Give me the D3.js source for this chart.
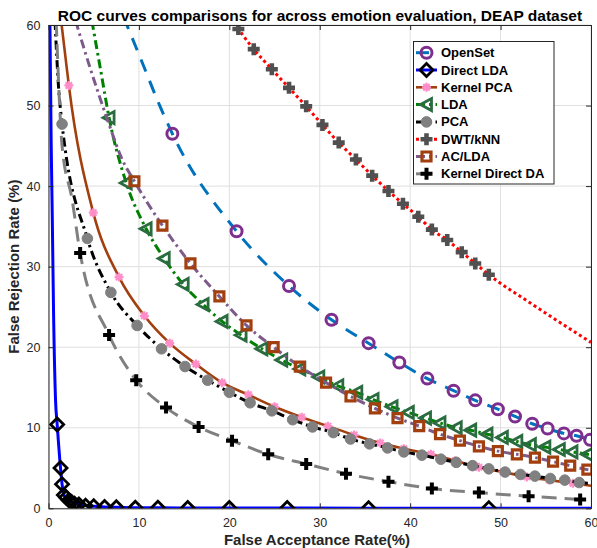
<!DOCTYPE html>
<html><head><meta charset="utf-8">
<script src="https://cdn.jsdelivr.net/npm/d3@7"></script>
<style>body{margin:0;background:#fff}svg{display:block}</style>
</head><body>
<svg id="chart" width="597" height="548"></svg>
<script>
// ---------------- DATA ----------------
const titleText = "ROC curves comparisons for across emotion evaluation, DEAP dataset";
const xLabel = "False Acceptance Rate(%)";
const yLabel = "False Rejection Rate (%)";
const xTicks = [0, 10, 20, 30, 40, 50, 60];
const yTicks = [0, 10, 20, 30, 40, 50, 60];
const seriesNames = ["OpenSet", "Direct LDA", "Kernel PCA", "LDA", "PCA", "DWT/kNN", "AC/LDA", "Kernel Direct DA"];

// OpenSet
const openSetLeadX = [8.3, 10.2, 12.3];
const openSetLeadY = [61, 55.8, 50.0];
const openSetX = [13.7, 20.8, 26.6, 31.3, 35.4, 38.8, 41.9, 44.8, 47.2, 49.7, 51.6, 53.5, 55.2, 57.0, 58.4, 59.9];
const openSetY = [46.5, 34.4, 27.6, 23.4, 20.5, 18.1, 16.1, 14.6, 13.4, 12.3, 11.4, 10.5, 9.9, 9.3, 9.0, 8.5];
const openSetTailX = [];
const openSetTailY = [];

// Direct LDA
const directLdaLeadX = [0.15, 0.3, 0.42, 0.55, 0.78];
const directLdaLeadY = [61, 45, 36, 25, 13.4];
const directLdaX = [0.96, 1.33, 1.5, 1.7, 1.96, 2.25, 2.55, 2.88, 3.36, 4.1, 5.0, 6.2, 7.5, 9.6, 12.1, 15.4, 20.0, 26.4, 35.4, 48.7];
const directLdaY = [10.4, 5.0, 3.0, 1.65, 1.33, 1.0, 0.79, 0.58, 0.46, 0.33, 0.25, 0.17, 0.12, 0.08, 0.06, 0.05, 0.04, 0.03, 0.02, 0.02];
const directLdaTailX = [60];
const directLdaTailY = [0.02];

// Kernel PCA
const kernelPcaLeadX = [1.4, 1.9];
const kernelPcaLeadY = [60.5, 55.8];
const kernelPcaX = [2.25, 4.95, 7.8, 10.6, 13.4, 16.3, 19.2, 22.1, 25.0, 28.0, 30.9, 33.8, 36.7, 39.3, 42.3, 45.0, 47.6, 50.3, 52.9, 55.4, 58.0];
const kernelPcaY = [52.5, 36.7, 28.7, 23.9, 20.5, 17.9, 15.6, 14.1, 12.6, 11.3, 10.2, 9.1, 8.1, 7.4, 6.7, 5.9, 5.1, 4.5, 3.9, 3.5, 3.1];
const kernelPcaTailX = [60];
const kernelPcaTailY = [2.8];

// LDA
const ldaLeadX = [4.8, 5.75];
const ldaLeadY = [60.5, 54.5];
const ldaX = [6.7, 8.6, 10.8, 12.8, 14.9, 17.1, 19.2, 21.3, 23.6, 25.8, 27.8, 29.9, 32.0, 34.1, 35.9, 38.0, 39.8, 41.7, 43.3, 45.1, 46.7, 48.5, 50.2, 51.8, 53.3, 54.9, 56.5, 57.9, 59.6];
const ldaY = [48.5, 40.4, 34.7, 31.0, 27.8, 25.3, 23.2, 21.5, 19.8, 18.4, 17.3, 16.3, 15.2, 14.4, 13.5, 12.6, 11.9, 11.2, 10.6, 10.0, 9.7, 9.2, 8.8, 8.3, 7.9, 7.6, 7.3, 7.0, 6.7];
const ldaTailX = [60];
const ldaTailY = [6.6];

// PCA
const pcaLeadX = [0.72, 1.1];
const pcaLeadY = [60.5, 52.5];
const pcaX = [1.5, 4.3, 6.9, 9.8, 12.5, 15.1, 17.6, 20.0, 22.3, 24.7, 27.0, 29.2, 31.5, 33.4, 35.5, 37.5, 39.3, 41.3, 43.4, 45.1, 46.9, 48.7, 50.5, 52.2, 53.8, 55.5, 57.1, 58.7];
const pcaY = [47.7, 33.5, 26.8, 22.7, 19.8, 17.6, 15.9, 14.4, 13.1, 12.1, 11.0, 10.1, 9.4, 8.6, 8.0, 7.5, 7.0, 6.6, 6.1, 5.7, 5.3, 4.9, 4.5, 4.2, 4.0, 3.7, 3.5, 3.2];
const pcaTailX = [60];
const pcaTailY = [3.1];

// DWT/kNN
const dwtLeadX = [20.5];
const dwtLeadY = [60.3];
const dwtX = [21.0, 22.7, 24.7, 26.6, 28.5, 30.3, 32.1, 34.0, 35.8, 37.6, 39.2, 40.9, 42.4, 44.1, 45.7, 47.2, 48.7];
const dwtY = [59.5, 57.0, 54.5, 52.2, 49.9, 47.6, 45.4, 43.3, 41.3, 39.4, 37.8, 36.2, 34.6, 33.3, 31.8, 30.4, 29.0];
const dwtTailX = [53.0, 60];
const dwtTailY = [25.7, 20.6];

// AC/LDA
const acLdaLeadX = [3.0, 4.65, 6.5, 8.15];
const acLdaLeadY = [60.5, 54.5, 48.3, 43.3];
const acLdaX = [9.5, 12.6, 15.7, 18.9, 21.9, 24.9, 27.8, 30.7, 33.4, 36.1, 38.6, 41.0, 43.3, 45.5, 47.6, 49.7, 51.8, 53.8, 55.8, 57.7, 59.6];
const acLdaY = [40.6, 35.1, 30.4, 26.3, 22.7, 20.0, 17.6, 15.6, 13.9, 12.4, 11.2, 10.2, 9.2, 8.4, 7.7, 7.1, 6.7, 6.3, 5.8, 5.3, 4.8];
const acLdaTailX = [60];
const acLdaTailY = [4.75];

// Kernel Direct DA
const kddaLeadX = [0.85, 1.5, 2.6];
const kddaLeadY = [60.5, 45, 38.4];
const kddaX = [3.5, 6.7, 9.7, 13.0, 16.6, 20.3, 24.3, 28.5, 32.9, 37.6, 42.4, 47.6, 53.1, 58.8];
const kddaY = [31.7, 21.5, 15.9, 12.5, 10.1, 8.4, 6.7, 5.5, 4.3, 3.3, 2.45, 1.95, 1.5, 1.1];
const kddaTailX = [];
const kddaTailY = [];

// ---------------- STYLES ----------------
const zip = (a, b) => a.map((v, i) => [v, b[i]]);
const series = [
  {name: seriesNames[0], lead: zip(openSetLeadX, openSetLeadY), pts: zip(openSetX, openSetY), tail: zip(openSetTailX, openSetTailY),
   color: "#0072BD", width: 3, dash: "13,10", marker: "circle", mStroke: "#7E2F8E", mFill: "none", mWidth: 3},
  {name: seriesNames[1], lead: zip(directLdaLeadX, directLdaLeadY), pts: zip(directLdaX, directLdaY), tail: zip(directLdaTailX, directLdaTailY),
   color: "#0000FF", width: 3, dash: null, marker: "diamond", mStroke: "#000", mFill: "none", mWidth: 2.8},
  {name: seriesNames[2], lead: zip(kernelPcaLeadX, kernelPcaLeadY), pts: zip(kernelPcaX, kernelPcaY), tail: zip(kernelPcaTailX, kernelPcaTailY),
   color: "#A23F0E", width: 2.6, dash: null, marker: "asterisk", mStroke: "#FF8EC8", mFill: "none", mWidth: 2.2},
  {name: seriesNames[3], lead: zip(ldaLeadX, ldaLeadY), pts: zip(ldaX, ldaY), tail: zip(ldaTailX, ldaTailY),
   color: "#008000", width: 3, dash: "9,4,2.5,4", marker: "triLeft", mStroke: "#2B6B40", mFill: "none", mWidth: 2.8},
  {name: seriesNames[4], lead: zip(pcaLeadX, pcaLeadY), pts: zip(pcaX, pcaY), tail: zip(pcaTailX, pcaTailY),
   color: "#000000", width: 3, dash: "9,4,2.5,4", marker: "dot", mStroke: "#808080", mFill: "#808080", mWidth: 1},
  {name: seriesNames[5], lead: zip(dwtLeadX, dwtLeadY), pts: zip(dwtX, dwtY), tail: zip(dwtTailX, dwtTailY),
   color: "#FF0000", width: 3, dash: "3,3", marker: "plusBig", mStroke: "#505050", mFill: "none", mWidth: 4.6},
  {name: seriesNames[6], lead: zip(acLdaLeadX, acLdaLeadY), pts: zip(acLdaX, acLdaY), tail: zip(acLdaTailX, acLdaTailY),
   color: "#7D5A8A", width: 3, dash: "9,4,2.5,4", marker: "square", mStroke: "#A23F0E", mFill: "none", mWidth: 3.2},
  {name: seriesNames[7], lead: zip(kddaLeadX, kddaLeadY), pts: zip(kddaX, kddaY), tail: zip(kddaTailX, kddaTailY),
   color: "#808080", width: 3, dash: "15,8", marker: "plus", mStroke: "#000000", mFill: "none", mWidth: 4}
];

const markerPath = {
  circle: "M5.5,0A5.5,5.5 0 1,1 -5.5,0A5.5,5.5 0 1,1 5.5,0Z",
  dot: "M5.3,0A5.3,5.3 0 1,1 -5.3,0A5.3,5.3 0 1,1 5.3,0Z",
  diamond: "M0,-6.5L6.5,0L0,6.5L-6.5,0Z",
  square: "M-4.5,-4.5H4.5V4.5H-4.5Z",
  triLeft: "M-6,0L5,-6L5,6Z",
  plus: "M-6,0H6M0,-6V6",
  plusBig: "M-6,0H6M0,-6V6",
  asterisk: "M-4.5,0H4.5M0,-4.5V4.5M-3.2,-3.2L3.2,3.2M-3.2,3.2L3.2,-3.2"
};

// ---------------- CHART ----------------
const svg = d3.select("#chart");
const x = d3.scaleLinear().domain([0, 60]).range([48.5, 591]);
const y = d3.scaleLinear().domain([0, 60]).range([508.3, 25]);
const axisColor = "#262626";
const font = "'Liberation Sans', Arial, Helvetica, sans-serif";

svg.append("rect").attr("width", 597).attr("height", 548).attr("fill", "#fff");

// grid
const grid = svg.append("g");
grid.selectAll(".gx").data(xTicks).join("line")
  .attr("x1", d => x(d)).attr("x2", d => x(d)).attr("y1", y(0)).attr("y2", y(60))
  .attr("stroke", "#dfdfdf").attr("stroke-width", 1);
grid.selectAll(".gy").data(yTicks).join("line")
  .attr("y1", d => y(d)).attr("y2", d => y(d)).attr("x1", x(0)).attr("x2", x(60))
  .attr("stroke", "#dfdfdf").attr("stroke-width", 1);

// clip
svg.append("clipPath").attr("id", "clip").append("rect")
  .attr("x", x(0)).attr("y", y(60)).attr("width", x(60) - x(0)).attr("height", y(0) - y(60));

const plot = svg.append("g").attr("clip-path", "url(#clip)");
const line = d3.line().x(d => x(d[0])).y(d => y(d[1])).curve(d3.curveMonotoneX);

series.forEach(s => {
  const all = s.lead.concat(s.pts, s.tail);
  const g = plot.append("g");
  g.append("path").attr("d", line(all)).attr("fill", "none")
    .attr("stroke", s.color).attr("stroke-width", s.width)
    .attr("stroke-dasharray", s.dash).attr("stroke-linecap", "butt").attr("stroke-linejoin", "round");
  g.selectAll(".m").data(s.pts).join("path")
    .attr("transform", d => `translate(${x(d[0])},${y(d[1])})`)
    .attr("d", markerPath[s.marker])
    .attr("fill", s.mFill).attr("stroke", s.mStroke).attr("stroke-width", s.mWidth)
    .attr("stroke-linejoin", "miter");
});

// axes
const axB = d3.axisBottom(x).tickValues(xTicks).tickSizeInner(-5).tickSizeOuter(0).tickPadding(10);
const axL = d3.axisLeft(y).tickValues(yTicks).tickSizeInner(-5).tickSizeOuter(0).tickPadding(8);
const axT = d3.axisTop(x).tickValues(xTicks).tickSizeInner(-5).tickSizeOuter(0).tickFormat("");
const axR = d3.axisRight(y).tickValues(yTicks).tickSizeInner(-5).tickSizeOuter(0).tickFormat("");
function styleAxis(g) {
  g.selectAll("path").attr("stroke", axisColor).attr("stroke-width", 1);
  g.selectAll("line").attr("stroke", axisColor).attr("stroke-width", 1);
  g.selectAll("text").attr("fill", axisColor).style("font-family", font).style("font-size", "12.5px");
}
svg.append("g").attr("transform", `translate(0,${y(0)})`).call(axB).call(styleAxis);
svg.append("g").attr("transform", `translate(${x(0)},0)`).call(axL).call(styleAxis);
svg.append("g").attr("transform", `translate(0,${y(60)})`).call(axT).call(styleAxis);
svg.append("g").attr("transform", `translate(${x(60)},0)`).call(axR).call(styleAxis);

// labels
svg.append("text").attr("x", 320).attr("y", 20.5).attr("text-anchor", "middle")
  .style("font-family", font).style("font-size", "15.5px").style("font-weight", "bold").attr("fill", "#000")
  .text(titleText);
svg.append("text").attr("x", 317).attr("y", 545).attr("text-anchor", "middle")
  .style("font-family", font).style("font-size", "15px").style("font-weight", "bold").attr("fill", axisColor)
  .text(xLabel);
svg.append("text").attr("transform", `translate(19,${(y(0) + y(60)) / 2}) rotate(-90)`).attr("text-anchor", "middle")
  .style("font-family", font).style("font-size", "15px").style("font-weight", "bold").attr("fill", axisColor)
  .text(yLabel);

// legend
const lg = svg.append("g");
lg.append("rect").attr("x", 413.5).attr("y", 41.5).attr("width", 140.5).attr("height", 142.5)
  .attr("fill", "#fff").attr("stroke", axisColor).attr("stroke-width", 1);
const rowY = i => 52.7 + i * 17.3;
series.forEach((s, i) => {
  const g = lg.append("g");
  g.append("line").attr("x1", 416).attr("x2", 437).attr("y1", rowY(i)).attr("y2", rowY(i))
    .attr("stroke", s.color).attr("stroke-width", s.width).attr("stroke-dasharray", s.dash);
  g.append("path").attr("transform", `translate(426.5,${rowY(i)})`).attr("d", markerPath[s.marker])
    .attr("fill", s.mFill).attr("stroke", s.mStroke).attr("stroke-width", s.mWidth);
  g.append("text").attr("x", 441).attr("y", rowY(i) + 4.5).text(s.name)
    .style("font-family", font).style("font-size", "13px").style("font-weight", "bold").attr("fill", "#000");
});
</script>
</body></html>
